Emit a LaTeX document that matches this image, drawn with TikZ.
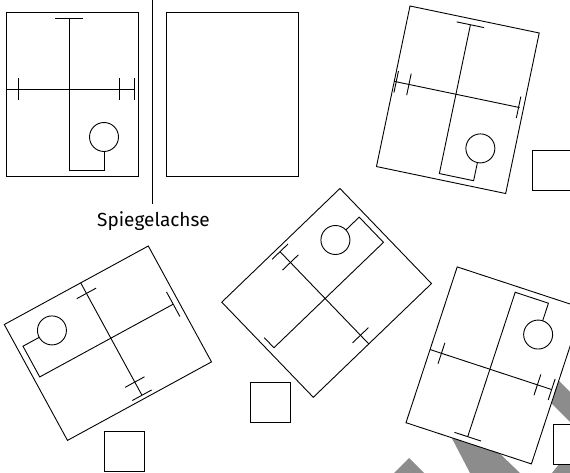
\documentclass[tikz,border=0pt]{standalone}
\usepackage{fontspec}
\setsansfont{Fira Sans}
\newcommand\pframe{\draw[plan] (0,0)--(132,0)--(132,164)--(0,164)--cycle;}
\newcommand\pvert{\draw (63,6)--(63,158)--(98,158)--(98,139.5); \draw (98,125) circle[radius=14.5pt];}
\newcommand\pvertL{\draw (63,6)--(63,158)--(28,158)--(28,139.5); \draw (28,125) circle[radius=14.5pt];}
\newcommand\pTbar{\draw (49,6)--(77,6);}
\newcommand\phor{\draw (0,77)--(128,77);}
\newcommand\ptick[1]{\draw (#1,66)--(#1,88);}
\begin{document}
\begin{tikzpicture}[x=1pt,y=-1pt,line width=0.9pt,
  plan/.style={draw,fill=white},
  answerbox/.style={draw,fill=white},
  hatchfill/.style={fill=black!45,draw=none}]
\useasboundingbox (0,0) rectangle (570,473);
\clip (0,0) rectangle (570,473);
% gray background pieces
\fill[hatchfill] (505,357)--(535,357)--(630,452)--(600,452)--cycle;
\fill[hatchfill] (445,425)--(470,425)--(520,473)--(470,473)--cycle;
\fill[hatchfill] (409,458)--(424,473)--(394,473)--cycle;
\fill[hatchfill] (552,473)--(560,463)--(570,463)--(570,473)--cycle;
% original
\begin{scope}[shift={(6,12)}]
  \pframe \pvert \pTbar \phor \ptick{12}\ptick{113}\ptick{128}
\end{scope}
% mirror frame and axis
\draw[plan] (166,12)--(298,12)--(298,176)--(166,176)--cycle;
\draw (152,0)--(152,204);
\node[font=\sffamily\fontsize{19}{19}\selectfont,inner sep=0,anchor=base] (lbl) at (153.5,226) {Spiegelachse};
% top right
\begin{scope}[shift={(410,6)},x={(0.9789pt,-0.2045pt)},y={(-0.2045pt,-0.9789pt)}]
  \pframe \pvert \pTbar \phor \ptick{2}\ptick{15}\ptick{127}
\end{scope}
% middle
\begin{scope}[shift={(313.3,397.3)},x={(-0.6934pt,0.7206pt)},y={(0.7206pt,0.6934pt)}]
  \pframe \pvert \draw (63,6)--(77,6); \phor \ptick{12}\ptick{113}\ptick{128}
\end{scope}
% bottom left
\begin{scope}[shift={(148.3,246)},x={(0.4787pt,-0.8780pt)},y={(-0.8780pt,-0.4787pt)}]
  \pframe \pvertL \pTbar \phor \ptick{12}\ptick{113}\ptick{128}
\end{scope}
% bottom right (mirror)
\begin{scope}[shift={(406,422.7)},x={(0.950pt,-0.3123pt)},y={(0.3123pt,0.950pt)}]
  \pframe \pvert \pTbar \phor \ptick{12}\ptick{113}\ptick{128}
\end{scope}
% answer boxes
\draw[answerbox] (532,150) rectangle (572,190);
\draw[answerbox] (553,424) rectangle (593,464);
\draw[answerbox] (250.7,382.3) rectangle (290.7,422.3);
\draw[answerbox] (104.3,431) rectangle (144.3,471);
\end{tikzpicture}
\end{document}
